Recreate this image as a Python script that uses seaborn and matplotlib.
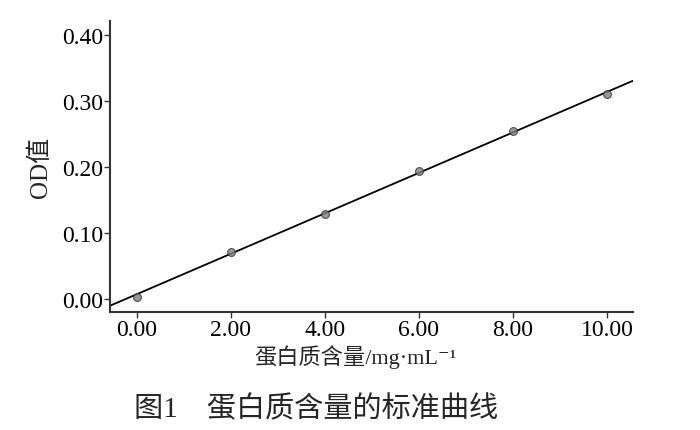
import matplotlib
matplotlib.use('Agg')
import matplotlib.pyplot as plt
import pandas as pd
import seaborn as sns

# protein standard curve (mg/mL vs OD)
concentration = [0.0, 2.0, 4.0, 6.0, 8.0, 10.0]
od_value = [0.003, 0.0715, 0.129, 0.193, 0.254, 0.310]
x_ticks = [0, 2, 4, 6, 8, 10]
y_ticks = [0.0, 0.1, 0.2, 0.3, 0.4]

sns.set_style('ticks')
plt.rcParams['font.family'] = ['Liberation Serif', 'Noto Sans CJK SC', 'DejaVu Serif']

df = pd.DataFrame({'conc': concentration, 'od': od_value})

fig = plt.figure(figsize=(7, 4.31), dpi=100)
ax = fig.add_axes([0.157, 0.274, 0.747, 0.675])
ax.set_xlim(-0.57, 10.55)
ax.set_ylim(-0.02, 0.421)

sns.regplot(
    data=df, x='conc', y='od', ax=ax, ci=None, truncate=False,
    scatter_kws=dict(s=32, color='#808080', edgecolor='#333333', linewidths=0.8, zorder=3),
    line_kws=dict(color='black', lw=1.3),
)
ax.set_xlim(-0.57, 10.55)
ax.set_ylim(-0.02, 0.421)

ax.set_xticks(x_ticks)
ax.set_xticklabels([f'{v:.2f}' for v in x_ticks])
ax.set_yticks(y_ticks)
ax.set_yticklabels([f'{v:.2f}' for v in y_ticks])
ax.tick_params(labelsize=17, length=4, width=1, color='#333333', pad=1, labelcolor='black')

sns.despine(ax=ax)
for side in ('left', 'bottom'):
    ax.spines[side].set_color('#333333')
    ax.spines[side].set_linewidth(1.5)

ax.set_xlabel('蛋白质含量/mg·mL⁻¹', fontsize=16)
ax.xaxis.set_label_coords(0.47, -0.11)
ax.set_ylabel('OD值', fontsize=18)
ax.yaxis.set_label_coords(-0.111, 0.5)

fig.text(0.451, 0.049, '图1　蛋白质含量的标准曲线', fontsize=21, ha='center', va='center')

fig.savefig('out.png', dpi=100)
plt.close(fig)
